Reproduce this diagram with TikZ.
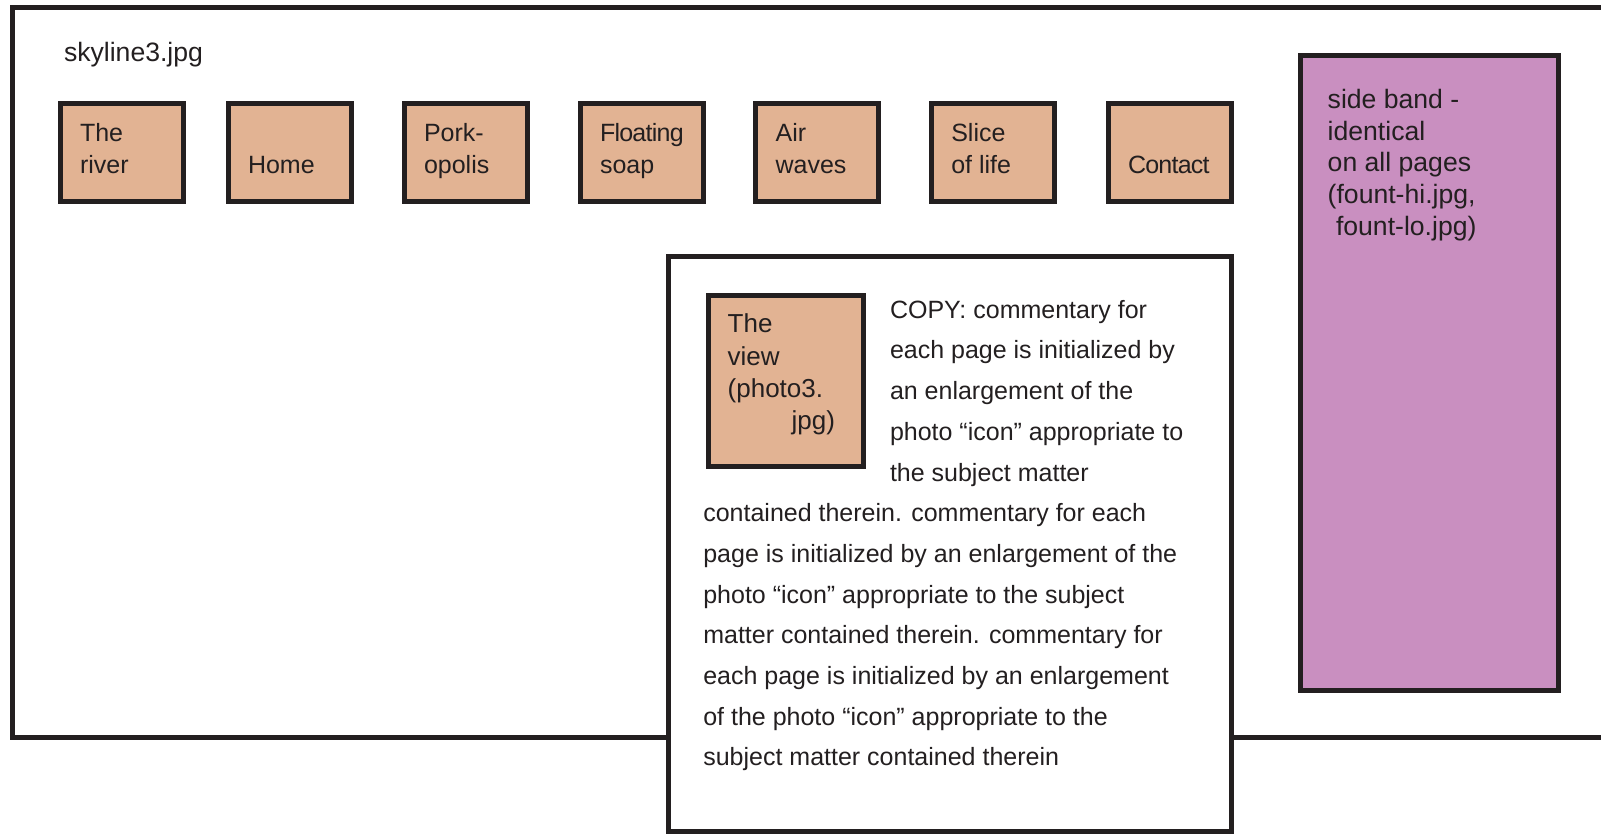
\documentclass[tikz,border=0pt]{standalone}
\usepackage{fontspec}
\setmainfont{Liberation Sans}
\usetikzlibrary{calc}
\definecolor{ink}{HTML}{231F20}
\definecolor{tan}{HTML}{E2B393}
\definecolor{band}{HTML}{C98FC0}
\begin{document}
\begin{tikzpicture}[x=1pt,y=-1pt,
  frameline/.style={draw=ink, line width=5pt},
  boxbase/.style={draw=ink, line width=5pt, rectangle, inner sep=0pt, outer sep=0pt},
  navbox/.style={boxbase, fill=tan, minimum width=123pt, minimum height=98pt},
  txt/.style={anchor=base west, inner sep=0pt, outer sep=0pt, text=ink},
  navtxt/.style={txt, font=\fontsize{25}{30}\selectfont},
  tighttxt/.style={txt, font=\fontsize{25}{30}\selectfont\addfontfeature{LetterSpace=-3}},
  bodytxt/.style={txt, font=\fontsize{25}{30}\selectfont},
  sidetxt/.style={txt, font=\fontsize{26.6}{30}\selectfont},
  phototxt/.style={txt, font=\fontsize{26}{30}\selectfont}
]
\useasboundingbox (0,0) rectangle (1601,833);

% outer page frame (open on the right)
\coordinate (ftr) at (1620,7.5);
\coordinate (ftl) at (12.5,7.5);
\coordinate (fbl) at (12.5,737.5);
\coordinate (fbr) at (1620,737.5);
\draw[frameline] (ftr) -- (ftl) -- (fbl) -- (fbr);

% content box
\node[boxbase, fill=white, minimum width=563.2pt, minimum height=575pt] (content) at (949.9,543.5) {};

% banner text
\node[sidetxt] (sky) at (64,61.7) {skyline3.jpg};

% navigation boxes
\node[navbox] (b1) at (121.7,152.5) {};
\node[navbox] (b2) at (289.7,152.5) {};
\node[navbox] (b3) at (465.7,152.5) {};
\node[navbox] (b4) at (641.7,152.5) {};
\node[navbox] (b5) at (817.3,152.5) {};
\node[navbox] (b6) at (993,152.5) {};
\node[navbox] (b7) at (1169.7,152.5) {};

\node[navtxt] (b1a) at ($(b1.north west)+(19.8,38.2)$) {The};
\node[navtxt] (b1b) at ($(b1.north west)+(19.8,69.5)$) {river};
\node[navtxt] (b2b) at ($(b2.north west)+(19.8,69.5)$) {Home};
\node[navtxt] (b3a) at ($(b3.north west)+(19.8,38.2)$) {Pork-};
\node[navtxt] (b3b) at ($(b3.north west)+(19.8,69.5)$) {opolis};
\node[tighttxt] (b4a) at ($(b4.north west)+(19.8,38.2)$) {Floating};
\node[navtxt] (b4b) at ($(b4.north west)+(19.8,69.5)$) {soap};
\node[navtxt] (b5a) at ($(b5.north west)+(19.8,38.2)$) {Air};
\node[navtxt] (b5b) at ($(b5.north west)+(19.8,69.5)$) {waves};
\node[navtxt] (b6a) at ($(b6.north west)+(19.8,38.2)$) {Slice};
\node[navtxt] (b6b) at ($(b6.north west)+(19.8,69.5)$) {of life};
\node[tighttxt] (b7b) at ($(b7.north west)+(19.8,69.5)$) {Contact};

% side band
\node[boxbase, fill=band, minimum width=258.3pt, minimum height=634.2pt] (side) at (1429.35,372.9) {};
\node[sidetxt] (s1) at ($(side.north west)+(27.5,52.5)$) {side band -};
\node[sidetxt] (s2) at ($(side.north west)+(27.5,84.2)$) {identical};
\node[sidetxt] (s3) at ($(side.north west)+(27.5,115.9)$) {on all pages};
\node[sidetxt] (s4) at ($(side.north west)+(27.5,147.6)$) {(fount-hi.jpg,};
\node[sidetxt] (s5) at ($(side.north west)+(35.8,179.3)$) {fount-lo.jpg)};

% photo box
\node[boxbase, fill=tan, minimum width=155pt, minimum height=171.3pt] (photo) at (785.7,380.85) {};
\node[phototxt] (p1) at ($(photo.north west)+(19.5,37.5)$) {The};
\node[phototxt] (p2) at ($(photo.north west)+(19.5,69.8)$) {view};
\node[phototxt] (p3) at ($(photo.north west)+(19.5,102.1)$) {(photo3.};
\node[phototxt] (p4) at ($(photo.north west)+(83.5,134.4)$) {jpg)};

% copy text
\node[bodytxt] (t1) at (890,318.2) {COPY: commentary for};
\node[bodytxt] (t2) at (890,358.9) {each page is initialized by};
\node[bodytxt] (t3) at (890,399.6) {an enlargement of the};
\node[bodytxt] (t4) at (890,440.3) {photo “icon” appropriate to};
\node[bodytxt] (t5) at (890,481.0) {the subject matter};
\node[bodytxt] (t6) at (703.3,521.7) {contained therein. commentary for each};
\node[bodytxt] (t7) at (703.3,562.4) {page is initialized by an enlargement of the};
\node[bodytxt] (t8) at (703.3,603.1) {photo “icon” appropriate to the subject};
\node[bodytxt] (t9) at (703.3,643.8) {matter contained therein. commentary for};
\node[bodytxt] (t10) at (703.3,684.5) {each page is initialized by an enlargement};
\node[bodytxt] (t11) at (703.3,725.2) {of the photo “icon” appropriate to the};
\node[bodytxt] (t12) at (703.3,765.9) {subject matter contained therein};
\end{tikzpicture}
\end{document}
